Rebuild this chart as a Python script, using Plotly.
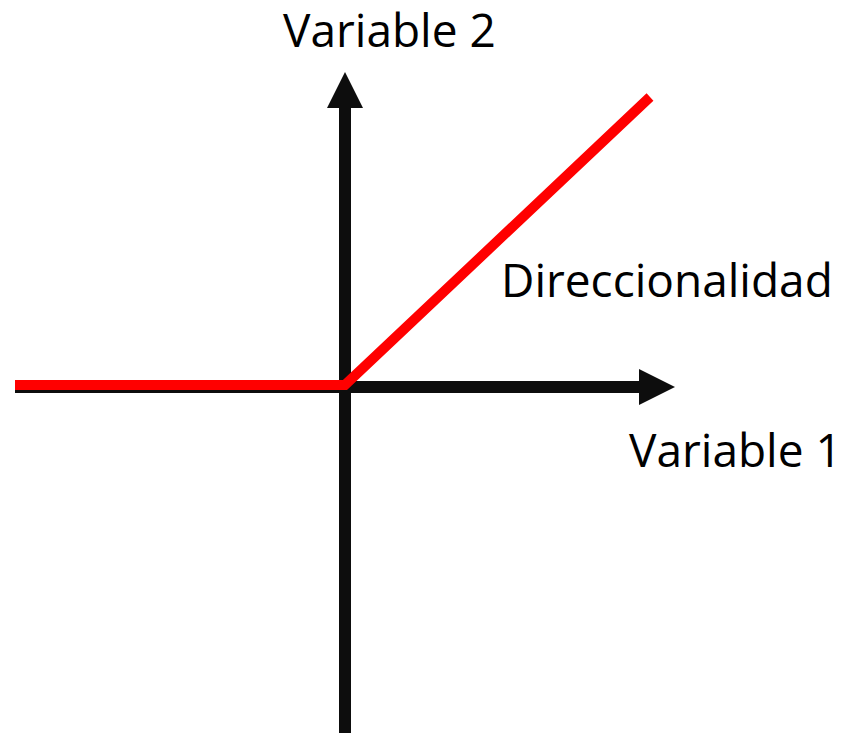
import plotly.graph_objects as go

# origin of the diagram is (0, 0); units are roughly screen pixels
axis_x_start = [-330, 0]      # horizontal axis: left end, crossing
axis_x_end = 330              # arrow tip of Variable 1
axis_y_start = [-347, 0]      # vertical axis: bottom end, crossing
axis_y_end = 314              # arrow tip of Variable 2

curve_x = [-330, 0, 305]
curve_y = [1, 1, 289]

labels = ["Variable 2", "Variable 1", "Direccionalidad"]
label_x = [44, 390, 322]
label_y = [357, -63, 107]

HEAD = 36       # arrow head length / width
AXIS_W = 12
CURVE_W = 10
FONT = "Open Sans"

fig = go.Figure()

# horizontal axis shaft + head
fig.add_trace(go.Scatter(
    x=[axis_x_start[0], axis_x_end - HEAD], y=[-1, -1],
    mode="lines", line=dict(color="#0d0d0d", width=AXIS_W), hoverinfo="skip"))
fig.add_trace(go.Scatter(
    x=[axis_x_end - HEAD, axis_x_end, axis_x_end - HEAD, axis_x_end - HEAD],
    y=[-1 + HEAD / 2, -1, -1 - HEAD / 2, -1 + HEAD / 2],
    mode="lines", fill="toself", fillcolor="#0d0d0d",
    line=dict(color="#0d0d0d", width=0), hoverinfo="skip"))

# vertical axis shaft + head
fig.add_trace(go.Scatter(
    x=[0, 0], y=[axis_y_start[0], axis_y_end - HEAD],
    mode="lines", line=dict(color="#0d0d0d", width=AXIS_W), hoverinfo="skip"))
fig.add_trace(go.Scatter(
    x=[-HEAD / 2, 0, HEAD / 2, -HEAD / 2],
    y=[axis_y_end - HEAD, axis_y_end, axis_y_end - HEAD, axis_y_end - HEAD],
    mode="lines", fill="toself", fillcolor="#0d0d0d",
    line=dict(color="#0d0d0d", width=0), hoverinfo="skip"))

# red curve
fig.add_trace(go.Scatter(
    x=curve_x, y=curve_y, mode="lines",
    line=dict(color="#ff0000", width=CURVE_W), hoverinfo="skip"))

for txt, tx, ty in zip(labels, label_x, label_y):
    fig.add_annotation(x=tx, y=ty, text=txt, showarrow=False,
                       xanchor="center", yanchor="middle", borderpad=0,
                       font=dict(family=FONT, size=46, color="#000000"))

# page body adds an 8px offset, so the ranges are shifted to compensate
fig.update_xaxes(range=[-337, 509], visible=False, fixedrange=True)
fig.update_yaxes(range=[-359, 378], visible=False, fixedrange=True)
fig.update_layout(
    width=846, height=737,
    margin=dict(l=0, r=0, t=0, b=0),
    paper_bgcolor="white", plot_bgcolor="white",
    showlegend=False,
)

fig.write_html("out.html")
